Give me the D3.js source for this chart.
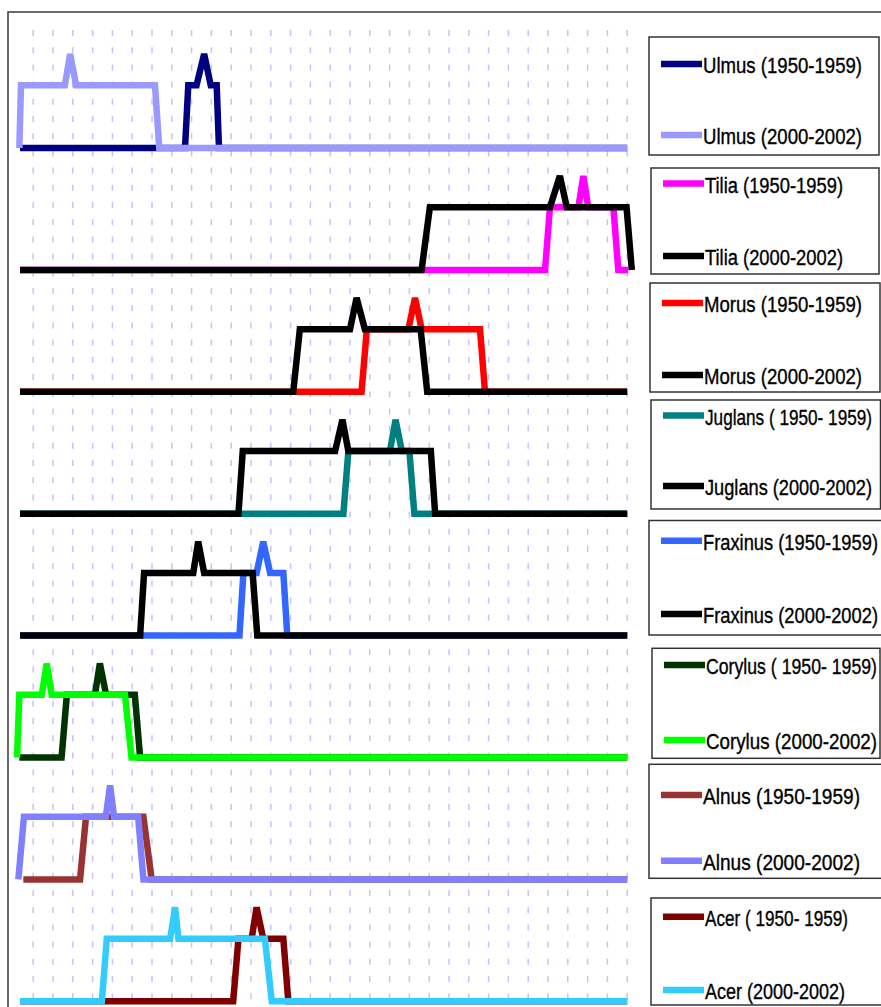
<!DOCTYPE html>
<html>
<head>
<meta charset="utf-8">
<script src="https://cdn.jsdelivr.net/npm/d3@7"></script>
<style>
  body { margin: 0; background: #fff; }
  text { font-family: "Liberation Sans", Arial, sans-serif; }
</style>
</head>
<body>
<script>
// pollen season per genus, two periods; x = day, level 0 = none, 2 = season, 3 = peak
const genera = ["Ulmus", "Tilia", "Morus", "Juglans", "Fraxinus", "Corylus", "Alnus", "Acer"];

const labelsOld = ["Ulmus (1950-1959)", "Tilia (1950-1959)", "Morus (1950-1959)", "Juglans ( 1950- 1959)",
  "Fraxinus (1950-1959)", "Corylus ( 1950- 1959)", "Alnus (1950-1959)", "Acer ( 1950- 1959)"];
const labelsNew = ["Ulmus (2000-2002)", "Tilia (2000-2002)", "Morus (2000-2002)", "Juglans (2000-2002)",
  "Fraxinus (2000-2002)", "Corylus (2000-2002)", "Alnus (2000-2002)", "Acer (2000-2002)"];

const colorsOld = ["#000080", "#ff00ff", "#ff0000", "#008080", "#3366ff", "#003300", "#993333", "#800000"];
const colorsNew = ["#9999ff", "#000000", "#000000", "#000000", "#000000", "#00ff00", "#8080ff", "#33ccff"];

const seasonOld = [
  [[1,0],[51,0],[52,2],[54.5,2],[56.8,3],[58.8,2],[60.6,2],[61.3,0],[185,0]],
  [[1,0],[160.1,0],[161.6,2],[170.2,2],[171.7,3],[173.2,2],[180.8,2],[182.3,0],[185.3,0]],
  [[1,0],[104.5,0],[106.1,2],[118.7,2],[120.7,3],[122.7,2],[140.4,2],[141.9,0],[185,0]],
  [[1,0],[99,0],[100.5,2],[113.1,2],[114.8,3],[116.7,2],[119,2],[120.5,0],[185,0]],
  [[1,0],[67.5,0],[68.7,2],[72.7,2],[74.7,3],[76.8,2],[80.8,2],[82,0],[185,0]],
  [[0.8,0],[13.6,0],[15.2,2],[23.7,2],[25.2,3],[27.1,2],[35.8,2],[37.4,0],[185,0]],
  [[2,0],[19.2,0],[21,2],[38.4,2],[40.9,0],[185,0]],
  [[1,0],[65.6,0],[67.2,2],[71.2,2],[72.7,3],[74.7,2],[80.8,2],[82.3,0],[185,0]]
];

const seasonNew = [
  [[0.8,0],[1.3,2],[14.6,2],[16.2,3],[18,2],[41.9,2],[43.2,0],[185,0]],
  [[1,0],[122.7,0],[125.2,2],[161.6,2],[164.6,3],[166.7,2],[184.8,2],[186.4,0]],
  [[1,0],[83.8,0],[85.8,2],[101,2],[103,3],[105.5,2],[122.4,2],[124.4,0],[185,0]],
  [[1,0],[67.2,0],[68.5,2],[96.5,2],[98.7,3],[100.5,2],[125.5,2],[126.8,0],[185,0]],
  [[1,0],[37.4,0],[38.6,2],[53.5,2],[55,3],[56.8,2],[71.5,2],[72.9,0],[185,0]],
  [[0.1,0],[0.8,2],[7.6,2],[9.1,3],[10.6,2],[32.8,2],[34.8,0],[185,0]],
  [[0.5,0],[2.2,2],[27,2],[28.3,3],[29.5,2],[36.8,2],[38.4,0],[185,0]],
  [[1,0],[25.8,0],[27.3,2],[46.5,2],[48,3],[49,2],[75.2,2],[77.3,0],[185,0]]
];

const gridDays = [5, 11, 17, 23, 29, 35, 41, 47, 53, 59, 65, 71, 77, 83, 89, 95,
  101, 107, 113, 119, 125, 131, 137, 143, 149, 155, 161, 167, 173, 179, 185];

const width = 881, height = 1007;
const firstBase = 148, panelStep = 121.9;

// legend boxes: left, top, right, bottom, swatch y old, swatch y new, text end x
const legendBoxes = [
  [649, 37, 879, 155, 64, 135, 862],
  [651, 168, 879, 274, 183.5, 256, 843],
  [650, 283, 880, 392, 303, 375, 862],
  [651, 400, 880.5, 509, 415.5, 486, 872],
  [649, 520.5, 892, 635, 540.7, 614, 878],
  [652, 648.3, 880, 758.3, 665, 740, 877],
  [649, 764.3, 892, 878.3, 795, 860.7, 860],
  [651, 898, 892, 1005, 916.7, 990, 848]
];

const svg = d3.select("body").append("svg")
  .attr("width", width)
  .attr("height", height);

const x = d3.scaleLinear().domain([1, 185]).range([20, 627.2]);

// vertical dashed grid
svg.append("g")
  .selectAll("line")
  .data(gridDays)
  .join("line")
  .attr("x1", d => x(d)).attr("x2", d => x(d))
  .attr("y1", 30).attr("y2", height)
  .attr("stroke", "#c4c4fa")
  .attr("stroke-width", 1.5)
  .attr("stroke-dasharray", "6,11.2");

// outer frame
svg.append("rect")
  .attr("x", 8).attr("y", 12)
  .attr("width", 900).attr("height", 1010)
  .attr("fill", "none")
  .attr("stroke", "#3a3a3a")
  .attr("stroke-width", 1.5);

genera.forEach((g, i) => {
  const base = firstBase + i * panelStep;
  const y = d3.scaleLinear().domain([0, 3]).range([base, base - 94]);
  const line = d3.line().x(d => x(d[0])).y(d => y(d[1]));

  const panel = svg.append("g").attr("class", "panel-" + g);
  [[seasonOld[i], colorsOld[i]], [seasonNew[i], colorsNew[i]]].forEach(([s, c]) => {
    panel.append("path")
      .attr("d", line(s))
      .attr("fill", "none")
      .attr("stroke", c)
      .attr("stroke-width", 6.5)
      .attr("stroke-linejoin", "miter")
      .attr("stroke-miterlimit", 2);
  });

  // legend
  const [bl, bt, br, bb, sy1, sy2, tEnd] = legendBoxes[i];
  const lg = svg.append("g").attr("class", "legend");
  lg.append("rect")
    .attr("x", bl).attr("y", bt)
    .attr("width", br - bl).attr("height", bb - bt)
    .attr("fill", "#fff")
    .attr("stroke", "#333")
    .attr("stroke-width", 1.5);

  [[sy1, colorsOld[i], labelsOld[i]], [sy2, colorsNew[i], labelsNew[i]]].forEach(([sy, c, lab], k) => {
    const sx = bl + 12;
    lg.append("line")
      .attr("x1", sx).attr("x2", sx + 41)
      .attr("y1", sy).attr("y2", sy)
      .attr("stroke", c)
      .attr("stroke-width", 6.5);
    const end = (i === 7 && k === 1) ? 845 : tEnd;
    // the original labels are narrow and tall: small font stretched vertically
    lg.append("text")
      .attr("transform", `translate(${sx + 42},${sy + 9}) scale(1,1.22)`)
      .attr("font-size", 18)
      .attr("fill", "#000")
      .attr("stroke", "#000")
      .attr("stroke-width", 0.3)
      .attr("textLength", end - (sx + 42))
      .attr("lengthAdjust", "spacingAndGlyphs")
      .text(lab);
  });
});
</script>
</body>
</html>
